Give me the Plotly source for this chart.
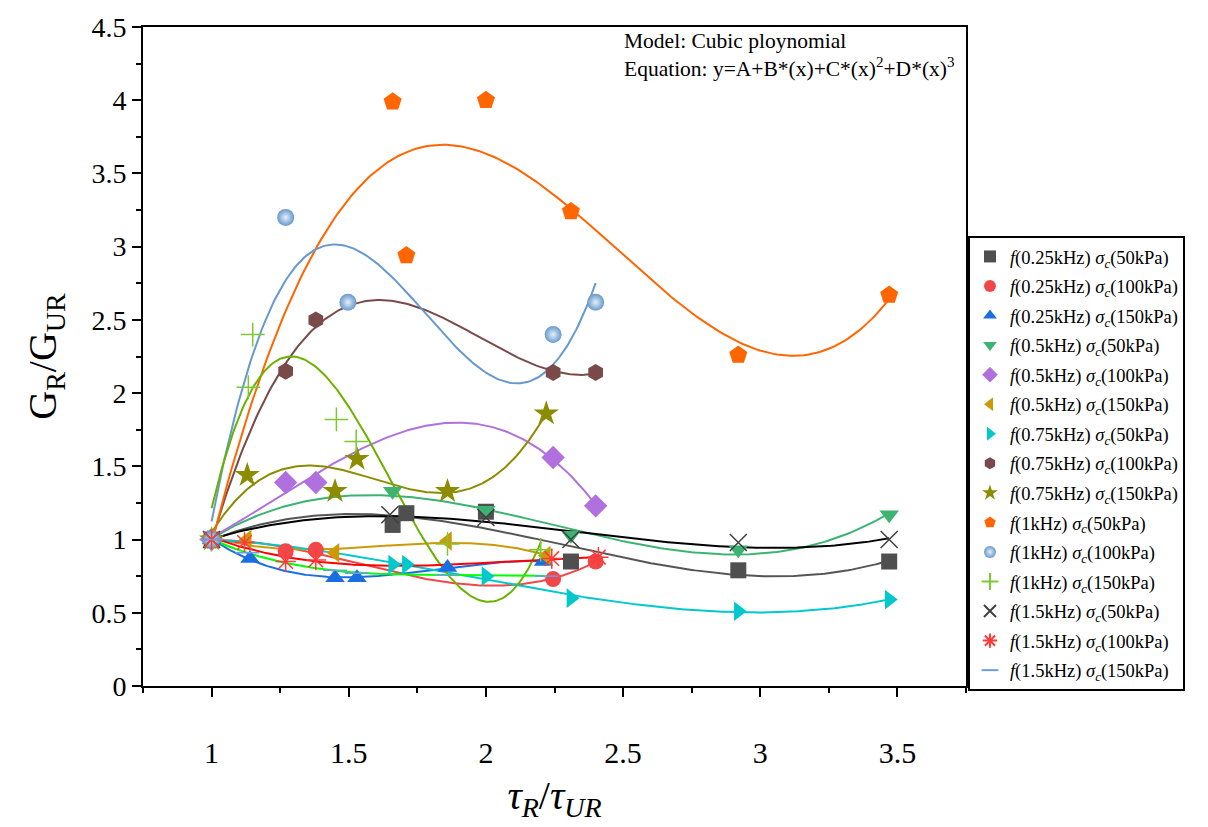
import numpy as np
import plotly.graph_objects as go

# ---- data (x = tau_R/tau_UR, y = G_R/G_UR) ----
labels = [
    "<i>f</i>(0.25kHz) <i>σ<sub>c</sub></i>(50kPa)",
    "<i>f</i>(0.25kHz) <i>σ<sub>c</sub></i>(100kPa)",
    "<i>f</i>(0.25kHz) <i>σ<sub>c</sub></i>(150kPa)",
    "<i>f</i>(0.5kHz) <i>σ<sub>c</sub></i>(50kPa)",
    "<i>f</i>(0.5kHz) <i>σ<sub>c</sub></i>(100kPa)",
    "<i>f</i>(0.5kHz) <i>σ<sub>c</sub></i>(150kPa)",
    "<i>f</i>(0.75kHz) <i>σ<sub>c</sub></i>(50kPa)",
    "<i>f</i>(0.75kHz) <i>σ<sub>c</sub></i>(100kPa)",
    "<i>f</i>(0.75kHz) <i>σ<sub>c</sub></i>(150kPa)",
    "<i>f</i>(1kHz) <i>σ<sub>c</sub></i>(50kPa)",
    "<i>f</i>(1kHz) <i>σ<sub>c</sub></i>(100kPa)",
    "<i>f</i>(1kHz) <i>σ<sub>c</sub></i>(150kPa)",
    "<i>f</i>(1.5kHz) <i>σ<sub>c</sub></i>(50kPa)",
    "<i>f</i>(1.5kHz) <i>σ<sub>c</sub></i>(100kPa)",
    "<i>f</i>(1.5kHz) <i>σ<sub>c</sub></i>(150kPa)",
]

x_025_50 = [1, 1.66, 1.71, 2.0, 2.31, 2.92, 3.47]
y_025_50 = [1, 1.10, 1.18, 1.19, 0.85, 0.79, 0.85]
x_025_100 = [1, 1.27, 1.38, 2.245, 2.40]
y_025_100 = [1, 0.92, 0.93, 0.73, 0.85]
x_025_150 = [1, 1.14, 1.45, 1.53, 1.86, 2.21]
y_025_150 = [1, 0.87, 0.74, 0.74, 0.81, 0.85]
x_05_50 = [1, 1.66, 2.0, 2.31, 2.92, 3.47]
y_05_50 = [1, 1.33, 1.20, 1.03, 0.93, 1.17]
x_05_100 = [1, 1.27, 1.38, 2.245, 2.40]
y_05_100 = [1, 1.39, 1.39, 1.56, 1.23]
x_05_150 = [1, 1.13, 1.45, 1.86, 2.22]
y_05_150 = [1, 1.00, 0.91, 0.99, 0.89]
x_075_50 = [1, 1.66, 1.71, 2.0, 2.31, 2.92, 3.47]
y_075_50 = [1, 0.83, 0.83, 0.75, 0.60, 0.51, 0.59]
x_075_100 = [1, 1.27, 1.38, 2.245, 2.40]
y_075_100 = [1, 2.15, 2.50, 2.14, 2.14]
x_075_150 = [1, 1.13, 1.45, 1.53, 1.86, 2.22]
y_075_150 = [1, 1.44, 1.33, 1.55, 1.33, 1.86]
x_1_50 = [1, 1.66, 1.71, 2.0, 2.31, 2.92, 3.47]
y_1_50 = [1, 3.99, 2.94, 4.00, 3.24, 2.26, 2.67]
x_1_100 = [1, 1.27, 1.497, 2.245, 2.40]
y_1_100 = [1, 3.20, 2.62, 2.40, 2.62]
x_1_150 = [1, 1.134, 1.15, 1.455, 1.527, 1.86, 2.20]
y_1_150 = [1, 2.04, 2.40, 1.82, 1.67, 0.97, 0.93]
x_15_50 = [1, 1.65, 2.0, 2.31, 2.92, 3.47]
y_15_50 = [1, 1.17, 1.15, 1.00, 0.98, 1.00]
x_15_100 = [1, 1.12, 1.27, 1.38, 2.24, 2.41]
y_15_100 = [1, 0.98, 0.85, 0.86, 0.87, 0.88]
x_15_150 = [1, 1.13, 1.45, 1.53, 1.86, 2.22]
y_15_150 = [1, 0.91, 0.79, 0.77, 0.76, 0.75]

xs = [x_025_50, x_025_100, x_025_150, x_05_50, x_05_100, x_05_150, x_075_50,
      x_075_100, x_075_150, x_1_50, x_1_100, x_1_150, x_15_50, x_15_100, x_15_150]
ys = [y_025_50, y_025_100, y_025_150, y_05_50, y_05_100, y_05_150, y_075_50,
      y_075_100, y_075_150, y_1_50, y_1_100, y_1_150, y_15_50, y_15_100, y_15_150]

x_ticks = [1, 1.5, 2, 2.5, 3, 3.5]
y_ticks = [0, 0.5, 1, 1.5, 2, 2.5, 3, 3.5, 4, 4.5]

# ---- styles ----
marker_colors = ["#4f4f4f", "#f04848", "#1a6fe0", "#3cb371", "#b070dd", "#cc9a06",
                 "#00c8cc", "#7a4a4a", "#8c8c00", "#ff6600", "#6699cc", "#7cc832",
                 "#404040", "#ff3a3a", "#6a9fe8"]
line_colors = ["#555555", "#f04848", "#1a6fe0", "#3cb371", "#b070dd", "#cc9a06",
               "#00c8cc", "#7a4a4a", "#8c8c00", "#ff6600", "#6699cc", "#6bb100",
               "#000000", "#ff0000", "#00ff00"]
symbols = ["square", "circle", "triangle-up", "triangle-down", "diamond", "triangle-left",
           "triangle-right", "hexagon", "star", "pentagon", "circle", "cross-thin-open",
           "x-thin-open", "asterisk-open", "line-ew-open"]
sizes = [16, 16, 17, 17, 18, 17, 17, 17, 19, 19, 17, 17, 17, 17, 17]

fig = go.Figure()

# cubic polynomial fits
for i in range(15):
    x = np.array(xs[i], dtype=float)
    y = np.array(ys[i], dtype=float)
    c = np.polyfit(x, y, 3)
    xf = np.linspace(x.min(), x.max(), 200)
    fig.add_trace(go.Scatter(x=xf, y=np.polyval(c, xf), mode="lines",
                             line=dict(color=line_colors[i], width=2),
                             showlegend=False, hoverinfo="skip"))

# data markers
for i in range(15):
    mk = dict(symbol=symbols[i], size=sizes[i], color=marker_colors[i],
              line=dict(width=0, color=marker_colors[i]))
    if symbols[i].endswith("-open"):
        mk["line"] = dict(width=1.5, color=marker_colors[i])
    if i == 10:
        mk["gradient"] = dict(type="radial", color="#e6eef8")
    fig.add_trace(go.Scatter(x=xs[i], y=ys[i], mode="markers", marker=mk,
                             name=labels[i], legendgroup=f"g{i}"))

serif = "Liberation Serif"
fig.update_layout(
    width=1208, height=827,
    margin=dict(l=143, r=242, t=21, b=141),
    plot_bgcolor="white", paper_bgcolor="white",
    font=dict(family=serif, color="black"),
    showlegend=True,
    legend=dict(x=1.0024, y=0.683, xanchor="left", yanchor="top",
                bordercolor="black", borderwidth=2, bgcolor="white",
                font=dict(family=serif, size=18.5, color="black"),
                tracegroupgap=2.5, itemsizing="constant"),
    annotations=[dict(
        x=0.582, y=1.0, xref="paper", yref="paper", xanchor="left", yanchor="top",
        align="left", showarrow=False,
        text="Model: Cubic ploynomial<br>Equation: y=A+B*(x)+C*(x)<sup>2</sup>+D*(x)<sup>3</sup>",
        font=dict(family=serif, size=21.5, color="black"))],
)
fig.update_xaxes(
    range=[0.75, 3.75], tickvals=x_ticks, ticktext=[str(v) for v in x_ticks],
    ticks="outside", ticklen=9, tickwidth=2, tickcolor="black", ticklabelstandoff=30,
    minor=dict(dtick=0.25, tick0=0.75, ticks="outside", ticklen=5, tickwidth=2, tickcolor="black"),
    showline=True, linewidth=2, linecolor="black", mirror=True, showgrid=False, zeroline=False,
    tickfont=dict(family=serif, size=30), title=dict(
        text="<i>τ<sub>R</sub></i>/<i>τ<sub>UR</sub></i>", font=dict(family=serif, size=40),
        standoff=13),
)
fig.update_yaxes(
    range=[0, 4.5], tickvals=y_ticks, ticktext=[("%g" % v) for v in y_ticks],
    ticks="outside", ticklen=9, tickwidth=2, tickcolor="black",
    minor=dict(dtick=0.25, tick0=0, ticks="outside", ticklen=5, tickwidth=2, tickcolor="black"),
    showline=True, linewidth=2, linecolor="black", mirror=True, showgrid=False, zeroline=False,
    tickfont=dict(family=serif, size=28), title=dict(
        text="G<sub>R</sub>/G<sub>UR</sub>", font=dict(family=serif, size=40), standoff=22),
)

fig.write_html("out.html")
